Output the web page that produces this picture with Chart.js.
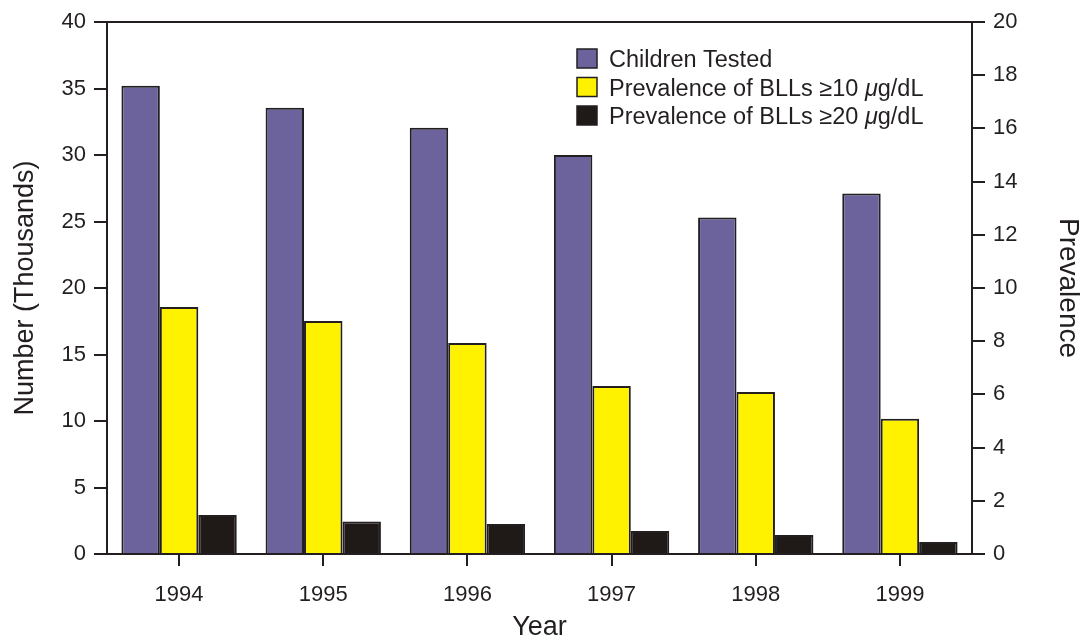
<!DOCTYPE html>
<html lang="en">
<head>
    <meta charset="UTF-8">
    <title>Children Tested and Prevalence of BLLs</title>
    <script src="https://cdn.jsdelivr.net/npm/chart.js"></script>
    <style>
        html, body { margin: 0; padding: 0; background: #fff; }
        #wrap { width: 1082px; height: 641px; }
    </style>
</head>
<body>
    <div id="wrap"><canvas id="bllChart"></canvas></div>

    <script>
        // data
        const years = ['1994', '1995', '1996', '1997', '1998', '1999'];
        const childrenTested = [35.2, 33.55, 32.05, 30.0, 25.3, 27.1];   // thousands, left axis
        const prevalence10 = [9.29, 8.76, 7.93, 6.32, 6.09, 5.08];       // right axis
        const prevalence20 = [1.47, 1.22, 1.13, 0.86, 0.71, 0.45];       // right axis

        const leftTicks = [0, 5, 10, 15, 20, 25, 30, 35, 40];
        const rightTicks = [0, 2, 4, 6, 8, 10, 12, 14, 16, 18, 20];

        const ink = '#231f20';
        const fontFam = '"Liberation Sans", Arial, Helvetica, sans-serif';

        // frame round the plot + legend inside the plot
        const framePlugin = {
            id: 'frame',
            afterDatasetsDraw(chart) {
                const a = chart.chartArea;
                const ctx = chart.ctx;
                ctx.save();
                ctx.strokeStyle = ink;
                ctx.lineWidth = 2;
                ctx.strokeRect(a.left, a.top, a.right - a.left, a.bottom - a.top);

                // legend
                const x0 = 577, y0 = 49, rowH = 28.5;
                ctx.textBaseline = 'alphabetic';
                chart.data.datasets.forEach((ds, i) => {
                    const y = y0 + i * rowH;
                    ctx.fillStyle = ds.backgroundColor;
                    ctx.fillRect(x0, y, 20, 19);
                    ctx.lineWidth = 1.5;
                    ctx.strokeStyle = ink;
                    ctx.strokeRect(x0, y, 20, 19);
                    ctx.fillStyle = ink;
                    let tx = 609;
                    const base = y + 18;
                    ds.legendParts.forEach(p => {
                        ctx.font = (p.italic ? 'italic ' : '') + '23.5px ' + fontFam;
                        ctx.fillText(p.text, tx, base);
                        tx += ctx.measureText(p.text).width;
                    });
                });
                ctx.restore();
            }
        };

        const ctx = document.getElementById('bllChart').getContext('2d');
        new Chart(ctx, {
            type: 'bar',
            data: {
                labels: years,
                datasets: [{
                    label: 'Children Tested',
                    legendParts: [{ text: 'Children Tested' }],
                    data: childrenTested,
                    yAxisID: 'y',
                    backgroundColor: '#6c639d',
                    borderColor: ink,
                    borderWidth: 2
                }, {
                    label: 'Prevalence of BLLs ≥10 μg/dL',
                    legendParts: [{ text: 'Prevalence of BLLs ≥10 ' }, { text: 'μ', italic: true }, { text: 'g/dL' }],
                    data: prevalence10,
                    yAxisID: 'y1',
                    backgroundColor: '#fff200',
                    borderColor: ink,
                    borderWidth: 2
                }, {
                    label: 'Prevalence of BLLs ≥20 μg/dL',
                    legendParts: [{ text: 'Prevalence of BLLs ≥20 ' }, { text: 'μ', italic: true }, { text: 'g/dL' }],
                    data: prevalence20,
                    yAxisID: 'y1',
                    backgroundColor: '#1f1a17',
                    borderColor: ink,
                    borderWidth: 2
                }]
            },
            options: {
                responsive: true,
                maintainAspectRatio: false,
                animation: false,
                layout: { padding: { top: 22, left: 0, right: 0, bottom: 0 } },
                datasets: { bar: { categoryPercentage: 0.8, barPercentage: 1.0 } },
                plugins: {
                    legend: { display: false },
                    tooltip: { enabled: false }
                },
                scales: {
                    x: {
                        grid: { drawOnChartArea: false, offset: false, tickLength: 12, color: ink, lineWidth: 2 },
                        border: { color: ink, width: 2 },
                        ticks: { color: ink, padding: 16, font: { family: fontFam, size: 22 } },
                        title: { display: true, text: 'Year', color: ink, padding: 0,
                                 font: { family: fontFam, size: 27, lineHeight: 1 } },
                        afterFit(s) { s.height = 87; }
                    },
                    y: {
                        position: 'left',
                        min: 0, max: 40,
                        afterBuildTicks(s) { s.ticks = leftTicks.map(v => ({ value: v })); },
                        grid: { drawOnChartArea: false, tickLength: 13, color: ink, lineWidth: 2 },
                        border: { color: ink, width: 2 },
                        ticks: { color: ink, padding: 8, font: { family: fontFam, size: 22 } },
                        title: { display: true, text: 'Number (Thousands)', color: ink, padding: { top: 12 },
                                 font: { family: fontFam, size: 27, lineHeight: 1 } },
                        afterFit(s) { s.width = 107; }
                    },
                    y1: {
                        position: 'right',
                        min: 0, max: 20,
                        afterBuildTicks(s) { s.ticks = rightTicks.map(v => ({ value: v })); },
                        grid: { drawOnChartArea: false, tickLength: 13, color: ink, lineWidth: 2 },
                        border: { color: ink, width: 2 },
                        ticks: { color: ink, padding: 8, font: { family: fontFam, size: 22 } },
                        title: { display: true, text: 'Prevalence', color: ink, padding: 0,
                                 font: { family: fontFam, size: 28, lineHeight: 1 } },
                        afterFit(s) { s.width = 110; }
                    }
                }
            },
            plugins: [framePlugin]
        });
    </script>
</body>
</html>
